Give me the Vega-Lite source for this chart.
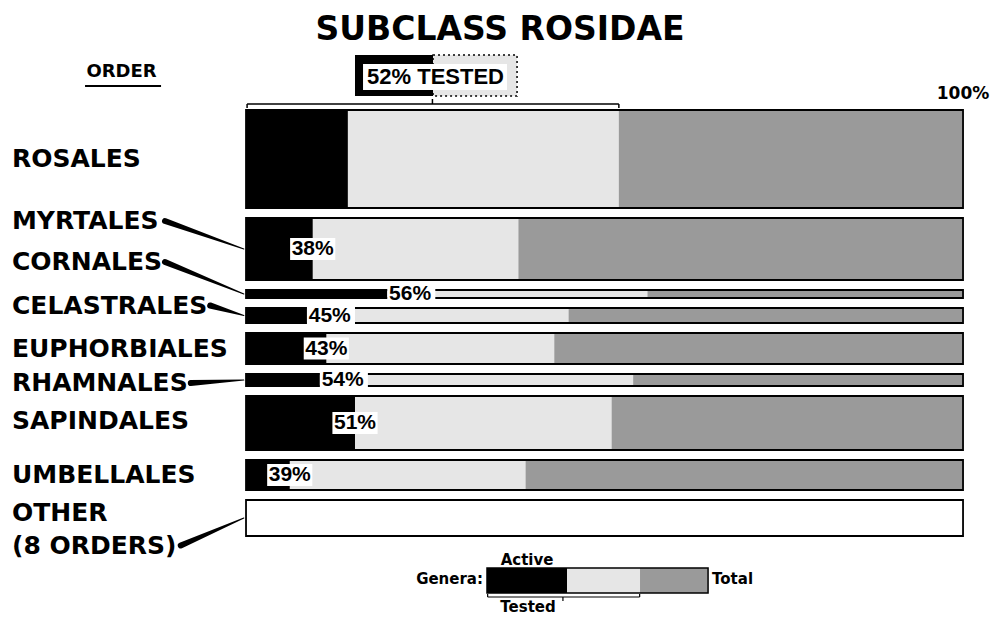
{
"$schema":"https://vega.github.io/schema/vega-lite/v6.json",
"width":992,"height":622,"autosize":{"type":"none"},"padding":0,"background":"white",
"title":{"text":"SUBCLASS ROSIDAE","font":"DejaVu Sans","fontSize":33,"fontWeight":"bold","color":"#000","anchor":"middle","frame":"group","offset":-47,"dx":4},
"config":{"view":{"stroke":null},"axis":{"disable":true}},
"data":{"values":[
 {"order":"ROSALES","idx":1,"genera":98,"active":14.2,"tested":52},
 {"order":"MYRTALES","idx":2,"genera":62,"active":9.3,"tested":38},
 {"order":"CORNALES","idx":3,"genera":8,"active":19.7,"tested":56},
 {"order":"CELASTRALES","idx":4,"genera":15,"active":8.5,"tested":45},
 {"order":"EUPHORBIALES","idx":5,"genera":31,"active":11.2,"tested":43},
 {"order":"RHAMNALES","idx":6,"genera":12,"active":10.3,"tested":54},
 {"order":"SAPINDALES","idx":7,"genera":54,"active":15.2,"tested":51},
 {"order":"UMBELLALES","idx":8,"genera":30,"active":6.1,"tested":39},
 {"order":"OTHER (8 ORDERS)","idx":9,"genera":36,"active":null,"tested":null}
]},
"transform":[
 {"calculate":"datum.genera + 10","as":"slot"},
 {"window":[{"op":"sum","field":"slot","as":"cum"}],"sort":[{"field":"idx","order":"ascending"}],"frame":[null,0]},
 {"calculate":"100 + datum.cum - datum.genera","as":"top"},
 {"calculate":"datum.top + datum.genera","as":"bottom"},
 {"calculate":"datum.top + datum.genera / 2","as":"mid"},
 {"calculate":"datum.idx == 2 ? -28 : datum.idx == 3 ? -32 : datum.idx == 4 ? -10 : datum.idx == 6 ? 3 : datum.idx == 7 ? -2 : datum.idx == 9 ? -5.5 : 0","as":"nudge"},
 {"calculate":"datum.mid + datum.nudge","as":"label_y"},
 {"calculate":"replace(datum.order, ' (', '\\n(')","as":"label"},
 {"calculate":"datum.idx == 2 ? -11.3 : datum.idx == 3 ? -11.3 : datum.idx == 4 ? -5.0 : datum.idx == 6 ? -7.7 : datum.idx == 9 ? -9.1 : null","as":"lead_x"},
 {"calculate":"datum.label_y + (datum.idx == 9 ? 33 : 0)","as":"lead_y"},
 {"calculate":"0","as":"zero"},
 {"calculate":"100","as":"full"}
],
"layer":[
 {"mark":{"type":"rect"},
  "encoding":{
   "x":{"field":"zero","type":"quantitative","scale":{"domain":[-34.31,104.04],"nice":false,"zero":false},"axis":null},
   "x2":{"field":"full"},
   "y":{"field":"top","type":"quantitative","scale":{"domain":[0,622],"reverse":true,"nice":false,"zero":false},"axis":null},
   "y2":{"field":"bottom"},
   "fill":{"condition":{"test":"datum.tested == null","value":"white"},"value":"#9a9a9a"}}},
 {"transform":[{"filter":"datum.tested != null"}],
  "mark":{"type":"rect","fill":"#e6e6e6"},
  "encoding":{"x":{"field":"zero","type":"quantitative"},"x2":{"field":"tested"},"y":{"field":"top","type":"quantitative"},"y2":{"field":"bottom"}}},
 {"transform":[{"filter":"datum.active != null"}],
  "mark":{"type":"rect","fill":"black"},
  "encoding":{"x":{"field":"zero","type":"quantitative"},"x2":{"field":"active"},"y":{"field":"top","type":"quantitative"},"y2":{"field":"bottom"}}},
 {"mark":{"type":"rect","fillOpacity":0,"stroke":"black","strokeWidth":1.8},
  "encoding":{"x":{"field":"zero","type":"quantitative"},"x2":{"field":"full"},"y":{"field":"top","type":"quantitative"},"y2":{"field":"bottom"}}},
 {"transform":[{"filter":"datum.lead_x != null"},{"calculate":"[0,1]","as":"ends"},{"flatten":["ends"]},
   {"calculate":"datum.ends == 0 ? datum.lead_x : -0.3","as":"lx"},
   {"calculate":"datum.ends == 0 ? datum.lead_y : datum.mid","as":"ly"},
   {"calculate":"datum.ends == 0 ? 6 : 1","as":"lw"}],
  "mark":{"type":"trail","color":"black"},
  "encoding":{"x":{"field":"lx","type":"quantitative"},"y":{"field":"ly","type":"quantitative"},
   "size":{"field":"lw","type":"quantitative","scale":null,"legend":null},
   "detail":{"field":"order","type":"nominal"},"order":{"field":"ends","type":"quantitative"}}},
 {"mark":{"type":"text","align":"left","baseline":"middle","font":"DejaVu Sans","fontWeight":"bold","fontSize":25,"lineBreak":"\n","lineHeight":33,"color":"black"},
  "encoding":{"x":{"datum":-32.64,"type":"quantitative"},"y":{"field":"label_y","type":"quantitative"},"text":{"field":"label","type":"nominal"}}},
 {"transform":[{"filter":"datum.idx > 1 && datum.tested != null && datum.genera >= 25"},
   {"calculate":"datum.active - 3.15","as":"bx0"},{"calculate":"datum.active + 3.15","as":"bx1"},
   {"calculate":"datum.mid - 11","as":"by0"},{"calculate":"datum.mid + 11","as":"by1"}],
  "mark":{"type":"rect","fill":"white"},
  "encoding":{"x":{"field":"bx0","type":"quantitative"},"x2":{"field":"bx1"},"y":{"field":"by0","type":"quantitative"},"y2":{"field":"by1"}}},
 {"transform":[{"filter":"datum.idx > 1 && datum.tested != null && datum.genera >= 25"},{"calculate":"datum.tested + '%'","as":"pct"}],
  "mark":{"type":"text","align":"center","baseline":"middle","font":"Liberation Sans","fontWeight":"bold","fontSize":21,"color":"black"},
  "encoding":{"x":{"field":"active","type":"quantitative"},"y":{"field":"mid","type":"quantitative"},"text":{"field":"pct","type":"nominal"}}},
 {"transform":[{"filter":"datum.tested != null && datum.genera < 25"},
   {"calculate":"datum.active","as":"bx0"},{"calculate":"datum.active + 6.7","as":"bx1"},
   {"calculate":"datum.mid - 10","as":"by0"},{"calculate":"datum.mid + 10","as":"by1"}],
  "mark":{"type":"rect","fill":"white"},
  "encoding":{"x":{"field":"bx0","type":"quantitative"},"x2":{"field":"bx1"},"y":{"field":"by0","type":"quantitative"},"y2":{"field":"by1"}}},
 {"transform":[{"filter":"datum.tested != null && datum.genera < 25"},{"calculate":"datum.tested + '%'","as":"pct"},{"calculate":"datum.active + 0.25","as":"tx"}],
  "mark":{"type":"text","align":"left","baseline":"middle","font":"Liberation Sans","fontWeight":"bold","fontSize":21,"color":"black"},
  "encoding":{"x":{"field":"tx","type":"quantitative"},"y":{"field":"mid","type":"quantitative"},"text":{"field":"pct","type":"nominal"}}},
 {"transform":[{"filter":"datum.idx == 1"}],
  "mark":{"type":"rect","fill":"black"},
  "encoding":{"x":{"datum":15.2,"type":"quantitative"},"x2":{"datum":26.08},"y":{"datum":55,"type":"quantitative"},"y2":{"datum":96}}},
 {"transform":[{"filter":"datum.idx == 1"}],
  "mark":{"type":"rect","fill":"#e6e6e6","stroke":"black","strokeWidth":1.5,"strokeDash":[2,3]},
  "encoding":{"x":{"datum":26.08,"type":"quantitative"},"x2":{"datum":37.8},"y":{"datum":55,"type":"quantitative"},"y2":{"datum":96}}},
 {"transform":[{"filter":"datum.idx == 1"}],
  "mark":{"type":"rect","fill":"white"},
  "encoding":{"x":{"datum":16.32,"type":"quantitative"},"x2":{"datum":36.4},"y":{"datum":64,"type":"quantitative"},"y2":{"datum":90}}},
 {"transform":[{"filter":"datum.idx == 1"},{"calculate":"datum.tested + '% TESTED'","as":"tl"}],
  "mark":{"type":"text","align":"center","baseline":"middle","font":"Liberation Sans","fontWeight":"bold","fontSize":22,"color":"black"},
  "encoding":{"x":{"datum":26.43,"type":"quantitative"},"y":{"datum":77,"type":"quantitative"},"text":{"field":"tl","type":"nominal"}}},
 {"transform":[{"filter":"datum.idx == 1"},{"calculate":"0.15","as":"b0"}],
  "mark":{"type":"rule","color":"black","strokeWidth":1.5},
  "encoding":{"x":{"field":"b0","type":"quantitative"},"x2":{"field":"tested"},"y":{"datum":104,"type":"quantitative"}}},
 {"transform":[{"filter":"datum.idx == 1"}],
  "mark":{"type":"rule","color":"black","strokeWidth":1.5},
  "encoding":{"x":{"datum":0.15,"type":"quantitative"},"y":{"datum":104,"type":"quantitative"},"y2":{"datum":108}}},
 {"transform":[{"filter":"datum.idx == 1"}],
  "mark":{"type":"rule","color":"black","strokeWidth":1.5},
  "encoding":{"x":{"field":"tested","type":"quantitative"},"y":{"datum":104,"type":"quantitative"},"y2":{"datum":108}}},
 {"transform":[{"filter":"datum.idx == 1"},{"calculate":"datum.tested / 2","as":"half"}],
  "mark":{"type":"rule","color":"black","strokeWidth":1.5},
  "encoding":{"x":{"field":"half","type":"quantitative"},"y":{"datum":99,"type":"quantitative"},"y2":{"datum":104}}},
 {"transform":[{"filter":"datum.idx == 1"}],
  "mark":{"type":"text","align":"center","baseline":"middle","font":"DejaVu Sans","fontWeight":"bold","fontSize":17,"color":"black","text":"100%"},
  "encoding":{"x":{"datum":100,"type":"quantitative"},"y":{"datum":94,"type":"quantitative"}}},
 {"transform":[{"filter":"datum.idx == 1"}],
  "mark":{"type":"text","align":"center","baseline":"middle","font":"DejaVu Sans","fontWeight":"bold","fontSize":18,"color":"black","text":"ORDER"},
  "encoding":{"x":{"datum":-17.36,"type":"quantitative"},"y":{"datum":72,"type":"quantitative"}}},
 {"transform":[{"filter":"datum.idx == 1"}],
  "mark":{"type":"rule","color":"black","strokeWidth":2},
  "encoding":{"x":{"datum":-22.45,"type":"quantitative"},"x2":{"datum":-11.85},"y":{"datum":86,"type":"quantitative"}}},
 {"transform":[{"filter":"datum.idx == 1"}],
  "mark":{"type":"rect","fill":"black"},
  "encoding":{"x":{"datum":33.61,"type":"quantitative"},"x2":{"datum":44.77},"y":{"datum":568,"type":"quantitative"},"y2":{"datum":593}}},
 {"transform":[{"filter":"datum.idx == 1"}],
  "mark":{"type":"rect","fill":"#e6e6e6"},
  "encoding":{"x":{"datum":44.77,"type":"quantitative"},"x2":{"datum":54.95},"y":{"datum":568,"type":"quantitative"},"y2":{"datum":593}}},
 {"transform":[{"filter":"datum.idx == 1"}],
  "mark":{"type":"rect","fill":"#9a9a9a"},
  "encoding":{"x":{"datum":54.95,"type":"quantitative"},"x2":{"datum":64.44},"y":{"datum":568,"type":"quantitative"},"y2":{"datum":593}}},
 {"transform":[{"filter":"datum.idx == 1"}],
  "mark":{"type":"rect","fillOpacity":0,"stroke":"black","strokeWidth":1.5},
  "encoding":{"x":{"datum":33.61,"type":"quantitative"},"x2":{"datum":64.44},"y":{"datum":568,"type":"quantitative"},"y2":{"datum":593}}},
 {"transform":[{"filter":"datum.idx == 1"}],
  "mark":{"type":"text","align":"right","baseline":"middle","font":"DejaVu Sans","fontWeight":"bold","fontSize":15,"color":"black","text":"Genera:"},
  "encoding":{"x":{"datum":33.05,"type":"quantitative"},"y":{"datum":579,"type":"quantitative"}}},
 {"transform":[{"filter":"datum.idx == 1"}],
  "mark":{"type":"text","align":"left","baseline":"middle","font":"DejaVu Sans","fontWeight":"bold","fontSize":15,"color":"black","text":"Total"},
  "encoding":{"x":{"datum":65.0,"type":"quantitative"},"y":{"datum":579,"type":"quantitative"}}},
 {"transform":[{"filter":"datum.idx == 1"}],
  "mark":{"type":"text","align":"center","baseline":"middle","font":"DejaVu Sans","fontWeight":"bold","fontSize":15,"color":"black","text":"Active"},
  "encoding":{"x":{"datum":39.19,"type":"quantitative"},"y":{"datum":560,"type":"quantitative"}}},
 {"transform":[{"filter":"datum.idx == 1"}],
  "mark":{"type":"text","align":"center","baseline":"middle","font":"DejaVu Sans","fontWeight":"bold","fontSize":15,"color":"black","text":"Tested"},
  "encoding":{"x":{"datum":39.33,"type":"quantitative"},"y":{"datum":607,"type":"quantitative"}}},
 {"transform":[{"filter":"datum.idx == 1"}],
  "mark":{"type":"rule","color":"black","strokeWidth":1.2},
  "encoding":{"x":{"datum":33.7,"type":"quantitative"},"x2":{"datum":54.9},"y":{"datum":597,"type":"quantitative"}}},
 {"transform":[{"filter":"datum.idx == 1"}],
  "mark":{"type":"rule","color":"black","strokeWidth":1.2},
  "encoding":{"x":{"datum":33.7,"type":"quantitative"},"y":{"datum":594,"type":"quantitative"},"y2":{"datum":597}}},
 {"transform":[{"filter":"datum.idx == 1"}],
  "mark":{"type":"rule","color":"black","strokeWidth":1.2},
  "encoding":{"x":{"datum":54.9,"type":"quantitative"},"y":{"datum":594,"type":"quantitative"},"y2":{"datum":597}}},
 {"transform":[{"filter":"datum.idx == 1"}],
  "mark":{"type":"rule","color":"black","strokeWidth":1.2},
  "encoding":{"x":{"datum":44.2,"type":"quantitative"},"y":{"datum":597,"type":"quantitative"},"y2":{"datum":601}}}
]
}
